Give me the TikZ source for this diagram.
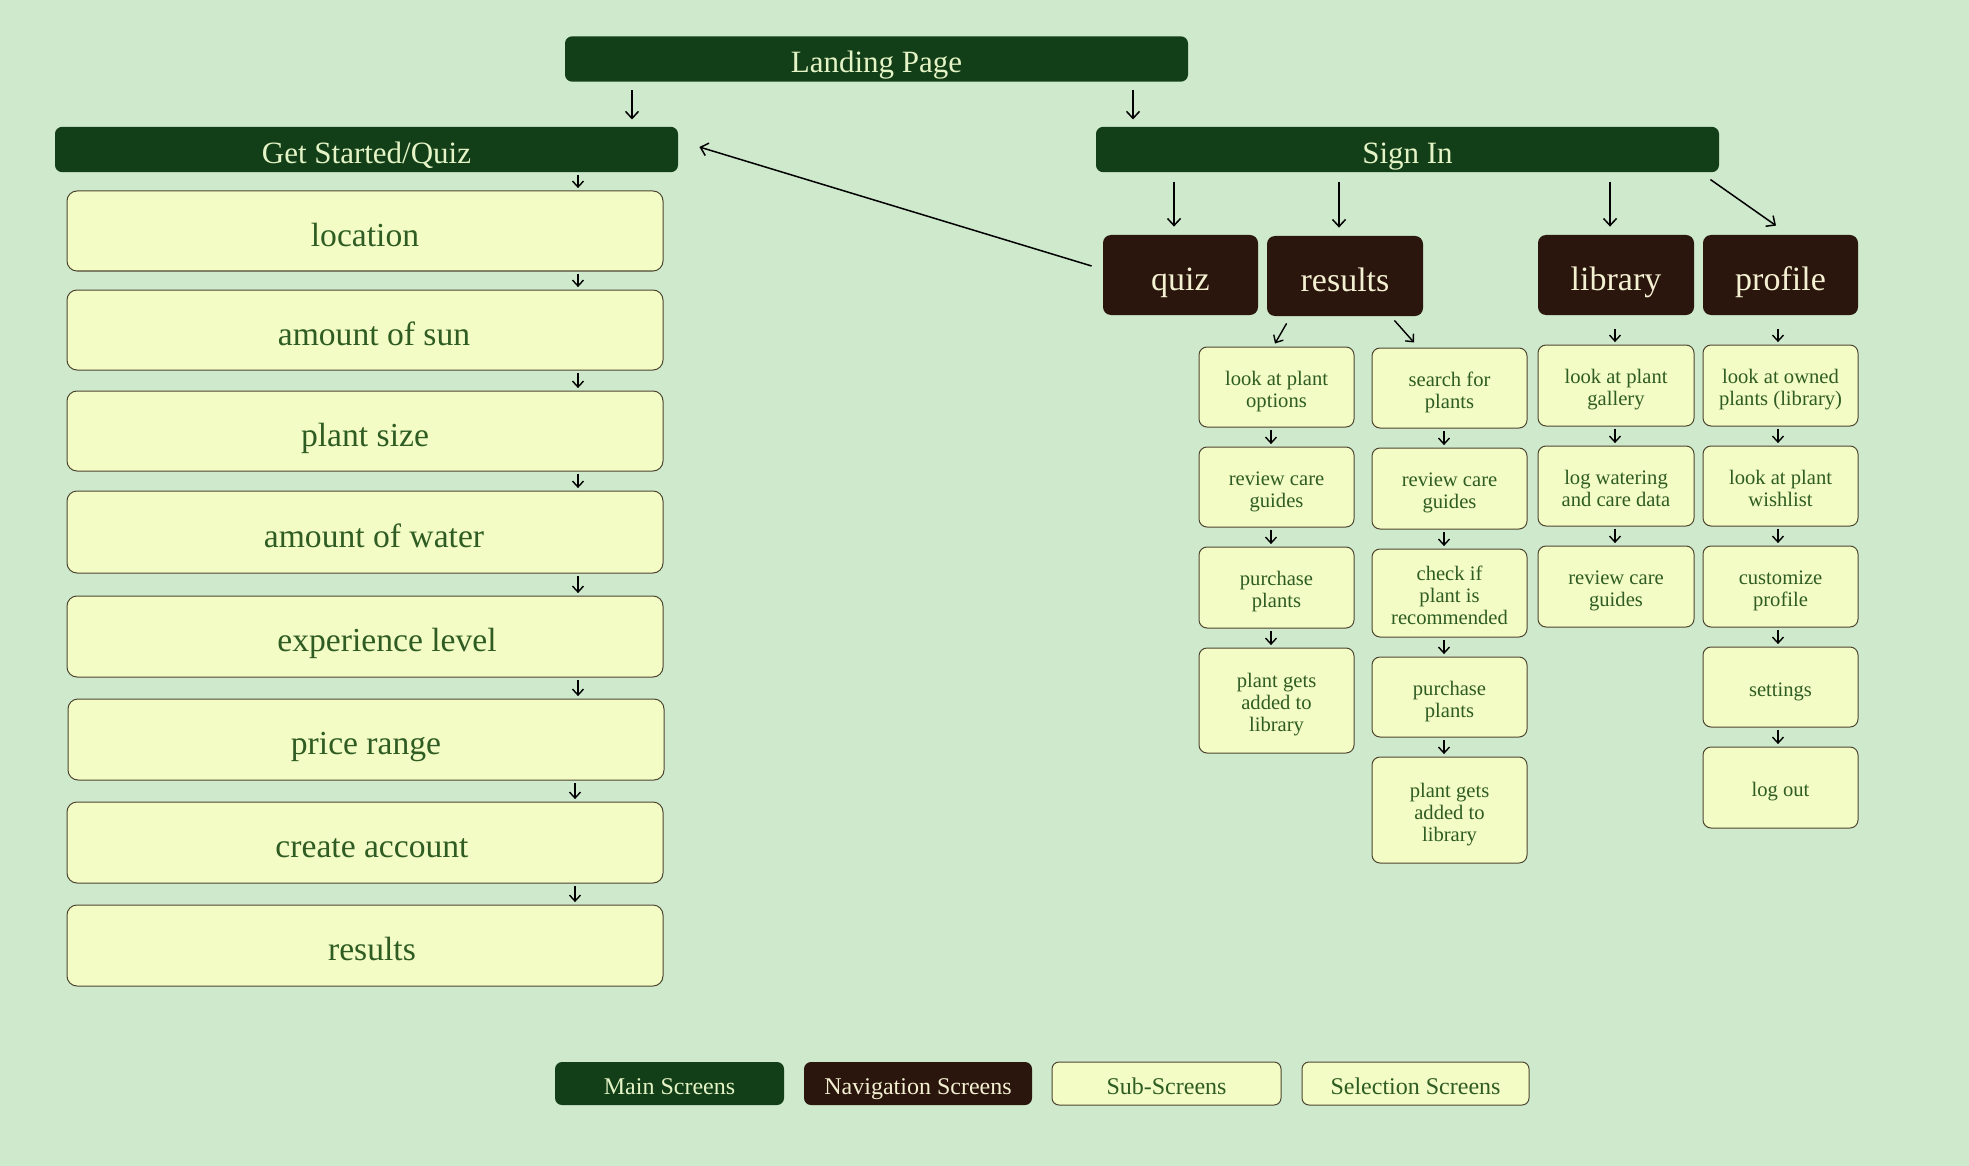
\documentclass[tikz,border=0pt]{standalone}
\usepackage{fontspec}
\setmainfont{Liberation Serif}
\usetikzlibrary{arrows.meta}

\definecolor{bg}{HTML}{CFE9CC}
\definecolor{mainfill}{HTML}{133F18}
\definecolor{navfill}{HTML}{2A160D}
\definecolor{subfill}{HTML}{F3FCC5}
\definecolor{subline}{HTML}{4E4631}
\definecolor{subtext}{HTML}{2E5C22}
\definecolor{maintext}{HTML}{E4F4C6}
\definecolor{navtext}{HTML}{F4F0D2}

% fixed line box so every label sits on the same baseline
\newcommand\topstrut{\rule{0pt}{1.18em}}
\newcommand\botstrut{\rule[-0.28em]{0pt}{0pt}}

% box from corner (x1,y1) to (x2,y2), in pixel units
\newcommand\mkbox[7]{%
  \node[#1, minimum width={(#4-#2)*0.5pt}, minimum height={(#5-#3)*0.5pt}]
    (#6) at ({(#2+#4)/2},{(#3+#5)/2}) {\topstrut#7\botstrut};}

\begin{document}
\begin{tikzpicture}[x=0.5pt,y=-0.5pt,
  every node/.style={inner sep=0pt, align=center},
  mainbox/.style={fill=mainfill, rounded corners=3.5pt, text=maintext,
    font=\fontsize{15.5}{17}\selectfont},
  navbox/.style={fill=navfill, rounded corners=4pt, text=navtext,
    font=\fontsize{17}{19}\selectfont},
  quizbox/.style={fill=subfill, draw=subline, line width=0.5pt,
    rounded corners=5pt, text=subtext, font=\fontsize{16.8}{18}\selectfont},
  subbox/.style={fill=subfill, draw=subline, line width=0.5pt,
    rounded corners=4pt, text=subtext, font=\fontsize{10.3}{11}\selectfont},
  keymain/.style={fill=mainfill, rounded corners=3.5pt, text=maintext,
    font=\fontsize{12}{13}\selectfont},
  keynav/.style={fill=navfill, rounded corners=3.5pt, text=navtext,
    font=\fontsize{12}{13}\selectfont},
  keysub/.style={fill=subfill, draw=subline, line width=0.5pt,
    rounded corners=3.5pt, text=subtext, font=\fontsize{12}{13}\selectfont},
  arr/.style={-{Straight Barb[length=3.5pt,width=6.5pt]}, line width=0.75pt, black},
  sarr/.style={-{Straight Barb[length=3pt,width=5.5pt]}, line width=0.7pt, black,
    shorten <=1.2pt, shorten >=1.2pt}
]
\fill[bg] (0,0) rectangle (1969,1166);
\useasboundingbox (0,0) rectangle (1969,1166);

% main screens
\mkbox{mainbox}{565}{38}{1188}{80}{landing}{Landing Page}
\mkbox{mainbox}{55}{128}{678}{171}{gs}{Get Started/Quiz}
\mkbox{mainbox}{1096}{128}{1719}{171}{signin}{Sign In}

% quiz flow
\mkbox{quizbox}{67}{191}{663}{271}{loc}{location}
\mkbox{quizbox}{67}{290}{663}{370}{sun}{\hspace*{9pt}amount of sun}
\mkbox{quizbox}{67}{391}{663}{471}{size}{plant size}
\mkbox{quizbox}{67}{491}{663}{573}{water}{\hspace*{9pt}amount of water}
\mkbox{quizbox}{67}{596}{663}{677}{exp}{\hspace*{22pt}experience level}
\mkbox{quizbox}{68}{699}{664}{780}{price}{price range}
\mkbox{quizbox}{67}{802}{663}{883}{acct}{\hspace*{7pt}create account}
\mkbox{quizbox}{67}{905}{663}{986}{res}{\hspace*{7pt}results}

% navigation screens
\mkbox{navbox}{1103}{235}{1258}{315}{quiz}{quiz}
\mkbox{navbox}{1267}{236}{1423}{316}{results}{results}
\mkbox{navbox}{1538}{235}{1694}{315}{library}{library}
\mkbox{navbox}{1703}{235}{1858}{315}{profile}{profile}

% sub-screens under results
\mkbox{subbox}{1199}{347}{1354}{427}{o1}{look at plant\\options}
\mkbox{subbox}{1199}{447}{1354}{527}{o2}{review care\\guides}
\mkbox{subbox}{1199}{547}{1354}{628}{o3}{purchase\\plants}
\mkbox{subbox}{1199}{648}{1354}{753}{o4}{plant gets\\added to\\library}

\mkbox{subbox}{1372}{348}{1527}{428}{s1}{search for\\plants}
\mkbox{subbox}{1372}{448}{1527}{529}{s2}{review care\\guides}
\mkbox{subbox}{1372}{549}{1527}{637}{s3}{check if\\plant is\\recommended}
\mkbox{subbox}{1372}{657}{1527}{737}{s4}{purchase\\plants}
\mkbox{subbox}{1372}{757}{1527}{863}{s5}{plant gets\\added to\\library}

% sub-screens under library
\mkbox{subbox}{1538}{345}{1694}{426}{l1}{look at plant\\gallery}
\mkbox{subbox}{1538}{446}{1694}{526}{l2}{log watering\\and care data}
\mkbox{subbox}{1538}{546}{1694}{627}{l3}{review care\\guides}

% sub-screens under profile
\mkbox{subbox}{1703}{345}{1858}{426}{p1}{look at owned\\plants (library)}
\mkbox{subbox}{1703}{446}{1858}{526}{p2}{look at plant\\wishlist}
\mkbox{subbox}{1703}{546}{1858}{627}{p3}{customize\\profile}
\mkbox{subbox}{1703}{647}{1858}{727}{p4}{settings}
\mkbox{subbox}{1703}{747}{1858}{828}{p5}{log out}

% legend
\mkbox{keymain}{555}{1062}{784}{1105}{kmain}{Main Screens}
\mkbox{keynav}{804}{1062}{1032}{1105}{knav}{Navigation Screens}
\mkbox{keysub}{1052}{1062}{1281}{1105}{ksub}{Sub-Screens}
\mkbox{keysub}{1302}{1062}{1529}{1105}{ksel}{Selection Screens}

% arrow columns
\coordinate (xa) at (632,0);
\coordinate (xb) at (1133,0);
\coordinate (xq) at (578,0);
\coordinate (xq2) at (575,0);
\coordinate (xn1) at (1174,0);
\coordinate (xn2) at (1339,0);
\coordinate (xn3) at (1610,0);
\coordinate (xc1) at (1271,0);
\coordinate (xc2) at (1444,0);
\coordinate (xc3) at (1615,0);
\coordinate (xc4) at (1778,0);

% landing page
\draw[arr, shorten <=4pt, shorten >=3.5pt] (landing.south -| xa) -- (gs.north -| xa);
\draw[arr, shorten <=4pt, shorten >=3.5pt] (landing.south -| xb) -- (signin.north -| xb);

% quiz steps
\draw[sarr] (gs.south -| xq) -- (loc.north -| xq);
\draw[sarr] (loc.south -| xq) -- (sun.north -| xq);
\draw[sarr] (sun.south -| xq) -- (size.north -| xq);
\draw[sarr] (size.south -| xq) -- (water.north -| xq);
\draw[sarr] (water.south -| xq) -- (exp.north -| xq);
\draw[sarr] (exp.south -| xq) -- (price.north -| xq);
\draw[sarr] (price.south -| xq2) -- (acct.north -| xq2);
\draw[sarr] (acct.south -| xq2) -- (res.north -| xq2);

% sign in to navigation
\draw[arr, shorten <=4.5pt, shorten >=4pt] (signin.south -| xn1) -- (quiz.north -| xn1);
\draw[arr, shorten <=4.5pt, shorten >=4pt] (signin.south -| xn2) -- (results.north -| xn2);
\draw[arr, shorten <=4.5pt, shorten >=4pt] (signin.south -| xn3) -- (library.north -| xn3);
\draw[arr] ([shift={(-9,7)}]signin.south east) -- ([shift={(-4.5,-9)}]profile.north);

% quiz back to get started
\draw[arr] ([shift={(-11,-9)}]quiz.west) -- ([shift={(21,-2.5)}]gs.east);

% navigation to first sub-screens
\draw[sarr, shorten <=0pt, shorten >=0pt] ([shift={(20,7)}]results.south west) -- ([shift={(-1.5,-3)}]o1.north);
\draw[sarr, shorten <=0pt, shorten >=0pt] ([shift={(-29,4)}]results.south east) -- ([shift={(-35.5,-5)}]s1.north);
\draw[sarr, shorten <=7pt] (library.south -| xc3) -- (l1.north -| xc3);
\draw[sarr, shorten <=7pt] (profile.south -| xc4) -- (p1.north -| xc4);

% sub-screen chains
\draw[sarr] (o1.south -| xc1) -- (o2.north -| xc1);
\draw[sarr] (o2.south -| xc1) -- (o3.north -| xc1);
\draw[sarr] (o3.south -| xc1) -- (o4.north -| xc1);

\draw[sarr] (s1.south -| xc2) -- (s2.north -| xc2);
\draw[sarr] (s2.south -| xc2) -- (s3.north -| xc2);
\draw[sarr] (s3.south -| xc2) -- (s4.north -| xc2);
\draw[sarr] (s4.south -| xc2) -- (s5.north -| xc2);

\draw[sarr] (l1.south -| xc3) -- (l2.north -| xc3);
\draw[sarr] (l2.south -| xc3) -- (l3.north -| xc3);

\draw[sarr] (p1.south -| xc4) -- (p2.north -| xc4);
\draw[sarr] (p2.south -| xc4) -- (p3.north -| xc4);
\draw[sarr] (p3.south -| xc4) -- (p4.north -| xc4);
\draw[sarr] (p4.south -| xc4) -- (p5.north -| xc4);
\end{tikzpicture}
\end{document}
